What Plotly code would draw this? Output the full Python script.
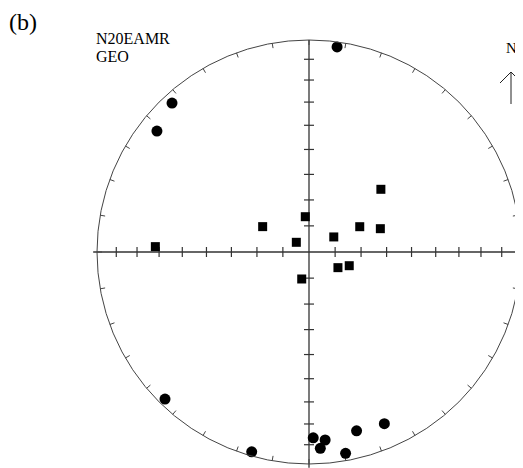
import numpy as np
import plotly.graph_objects as go

# ---- data (declination, inclination in degrees) read from the stereonet ----
circle_dec = [7.8, 317.4, 308.5, 224.4, 196.0, 178.7, 175.1, 176.7, 165.1, 169.7, 156.3]
circle_inc = [2.7, 5.1, 9.2, 3.3, 2.2, 13.4, 12.0, 8.0, 13.8, 3.9, 12.6]
square_dec = [48.9, 298.7, 354.0, 307.4, 58.7, 63.5, 71.9, 118.4, 108.8, 195.1, 272.0]
square_inc = [52.9, 69.7, 76.4, 83.9, 78.9, 68.2, 61.0, 77.4, 73.7, 79.3, 28.3]
axis_tick_incs = [10, 20, 30, 40, 50, 60, 70, 80]
rim_tick_decs = list(range(0, 360, 10))
title_text = "(b)"
site_text = "N20EAMR"
coord_text = "GEO"
north_text = "N"

W, H = 523, 468
OFF = 8  # page body margin offset
CX, CY, R = 309.0 - OFF, 252.0 - OFF, 212.0  # figure-pixel centre and radius of the net


def equal_area(dec, inc):
    dec = np.radians(np.asarray(dec, float))
    inc = np.asarray(inc, float)
    r = np.sqrt(2) * np.sin(np.radians(90 - np.abs(inc)) / 2)
    return r * np.sin(dec), r * np.cos(dec)


def px(x):
    return (x - OFF) / W


def py(y):
    return 1 - (y - OFF) / H


fig = go.Figure()

# primitive circle
fig.add_shape(type="circle", xref="x", yref="y", x0=-1, y0=-1, x1=1, y1=1,
              line=dict(color="#444", width=1))

# cross axes
ext = 0.018
fig.add_trace(go.Scatter(x=[-1 - ext, 1 + ext, None, 0, 0], y=[0, 0, None, 1, -1 - ext],
                         mode="lines", line=dict(color="#333", width=1.3),
                         hoverinfo="skip", showlegend=False))

# axis ticks (equal-area inclination ticks)
tl = 5 / R
tx, ty = [], []
for inc in axis_tick_incs:
    r = np.sqrt(2) * np.sin(np.radians(90 - inc) / 2)
    for s in (1, -1):
        tx += [s * r, s * r, None]
        ty += [-tl, tl, None]
        tx += [-tl, tl, None]
        ty += [s * r, s * r, None]
fig.add_trace(go.Scatter(x=tx, y=ty, mode="lines", line=dict(color="#333", width=1.2),
                         hoverinfo="skip", showlegend=False))

# rim ticks every 10 degrees, pointing inward
rx, ry = [], []
rl = 5 / R
for d in rim_tick_decs:
    a = np.radians(d)
    rx += [np.sin(a), (1 - rl) * np.sin(a), None]
    ry += [np.cos(a), (1 - rl) * np.cos(a), None]
fig.add_trace(go.Scatter(x=rx, y=ry, mode="lines", line=dict(color="#444", width=1),
                         hoverinfo="skip", showlegend=False))

cx, cy = equal_area(circle_dec, circle_inc)
fig.add_trace(go.Scatter(x=cx, y=cy, mode="markers",
                         marker=dict(symbol="circle", size=11, color="black"),
                         showlegend=False))
sx, sy = equal_area(square_dec, square_inc)
fig.add_trace(go.Scatter(x=sx, y=sy, mode="markers",
                         marker=dict(symbol="square", size=9, color="black"),
                         showlegend=False))

# north arrow (open head)
fig.add_shape(type="path", xref="paper", yref="paper",
              path=f"M {px(511)} {py(104)} L {px(511)} {py(72)} "
                   f"M {px(500)} {py(83)} L {px(511)} {py(72)} L {px(522)} {py(83)}",
              line=dict(color="#222", width=1))

serif = "Liberation Serif"
fig.add_annotation(text=title_text, xref="paper", yref="paper", x=px(8), y=py(8),
                   xanchor="left", yanchor="top", showarrow=False, borderpad=0,
                   font=dict(family=serif, size=24, color="black"))
for t, y in ((site_text, 39), (coord_text, 57)):
    fig.add_annotation(text=t, xref="paper", yref="paper", x=px(95), y=py(y),
                       xanchor="left", yanchor="middle", showarrow=False,
                       borderpad=0, font=dict(family=serif, size=16, color="black"))
fig.add_annotation(text=north_text, xref="paper", yref="paper", x=px(511), y=py(48),
                   xanchor="center", yanchor="middle", showarrow=False, borderpad=0,
                   font=dict(family=serif, size=15, color="black"))

fig.update_xaxes(range=[(0 - CX) / R, (W - CX) / R], visible=False, fixedrange=True)
fig.update_yaxes(range=[(CY - H) / R, (CY - 0) / R], visible=False, fixedrange=True)
fig.update_layout(width=W, height=H, autosize=False,
                  margin=dict(l=0, r=0, t=0, b=0, pad=0),
                  paper_bgcolor="white", plot_bgcolor="white")

fig.write_html("out.html")
